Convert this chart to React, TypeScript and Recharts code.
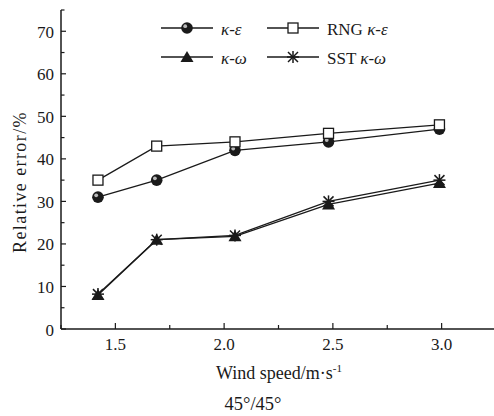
import React from "react";
import { LineChart, Line, XAxis, YAxis, Legend, Label } from "recharts";

const windSpeed = [1.42, 1.69, 2.05, 2.48, 2.99];
const kEpsilon = [31, 35, 42, 44, 47];
const rngKEpsilon = [35, 43, 44, 46, 48];
const kOmega = [8, 21, 21.8, 29.3, 34.3];
const sstKOmega = [8.2, 21, 22, 30, 35];

const xTicks = [1.25, 1.5, 1.75, 2.0, 2.25, 2.5, 2.75, 3.0, 3.25];
const yTicks = [0, 5, 10, 15, 20, 25, 30, 35, 40, 45, 50, 55, 60, 65, 70, 75];

const data = windSpeed.map((w, i) => ({
  w,
  ke: kEpsilon[i],
  rng: rngKEpsilon[i],
  kw: kOmega[i],
  sst: sstKOmega[i],
}));

const FONT = "'Liberation Serif', 'Times New Roman', serif";
const INK = "#1a1a1a";

type Shape = "circle" | "square" | "triangle" | "star";

function Marker({ shape, cx, cy }: { shape: Shape; cx: number; cy: number }) {
  if (shape === "circle") {
    return (
      <g>
        <circle cx={cx} cy={cy} r={5.8} fill={INK} />
        <circle cx={cx - 1.8} cy={cy - 1.8} r={1.9} fill="#fff" opacity={0.7} />
      </g>
    );
  }
  if (shape === "square") {
    return <rect x={cx - 5} y={cy - 5} width={10} height={10} fill="#fff" stroke={INK} strokeWidth={1.3} />;
  }
  if (shape === "triangle") {
    return <path d={`M${cx},${cy - 6} L${cx + 6.5},${cy + 5} L${cx - 6.5},${cy + 5} Z`} fill={INK} />;
  }
  return (
    <g stroke={INK} strokeWidth={1.5}>
      <line x1={cx} y1={cy - 6} x2={cx} y2={cy + 6} />
      <line x1={cx - 6} y1={cy} x2={cx + 6} y2={cy} />
      <line x1={cx - 5} y1={cy - 5} x2={cx + 5} y2={cy + 5} />
      <line x1={cx - 5} y1={cy + 5} x2={cx + 5} y2={cy - 5} />
    </g>
  );
}

const dotFor = (shape: Shape) => (props: any) => {
  const { cx, cy, index } = props;
  if (cx == null || cy == null) return <g key={index} />;
  return <Marker key={`${shape}-${index}`} shape={shape} cx={cx} cy={cy} />;
};

function YTick({ x, y, payload }: any) {
  const v = payload.value as number;
  const major = v % 10 === 0;
  return (
    <g>
      <line x1={x} y1={y} x2={x + (major ? 5 : 3.5)} y2={y} stroke={INK} strokeWidth={1.2} />
      {major && (
        <text x={x - 7} y={y + 1} textAnchor="end" dominantBaseline="central" fontSize={17} fontFamily={FONT} fill={INK}>
          {v}
        </text>
      )}
    </g>
  );
}

function XTick({ x, y, payload }: any) {
  const v = payload.value as number;
  const major = Math.abs(v * 2 - Math.round(v * 2)) < 1e-6 && v < 3.2;
  return (
    <g>
      <line x1={x} y1={y} x2={x} y2={y - (major ? 6 : 4)} stroke={INK} strokeWidth={1.2} />
      {major && (
        <text x={x} y={y + 21} textAnchor="middle" fontSize={17} fontFamily={FONT} fill={INK}>
          {v.toFixed(1)}
        </text>
      )}
    </g>
  );
}

const legendItems: { shape: Shape; pre?: string; greek: string }[] = [
  { shape: "circle", greek: "κ-ε" },
  { shape: "square", pre: "RNG ", greek: "κ-ε" },
  { shape: "triangle", greek: "κ-ω" },
  { shape: "star", pre: "SST ", greek: "κ-ω" },
];

function LegendBox() {
  return (
    <svg width={250} height={50}>
      {legendItems.map((it, i) => {
        const col = i % 2;
        const row = Math.floor(i / 2);
        const x0 = col * 106;
        const y0 = 12 + row * 29;
        return (
          <g key={i}>
            <line x1={x0} y1={y0} x2={x0 + 52} y2={y0} stroke={INK} strokeWidth={1.3} />
            <Marker shape={it.shape} cx={x0 + 26} cy={y0} />
            <text x={x0 + 60} y={y0 + 1} dominantBaseline="central" fontSize={17} fontFamily={FONT} fill={INK}>
              {it.pre}
              <tspan fontStyle="italic">{it.greek}</tspan>
            </text>
          </g>
        );
      })}
    </svg>
  );
}

export default function App() {
  return (
    <div style={{ position: "absolute", left: 0, top: 0, width: 494, height: 416, overflow: "hidden", background: "#fff" }}>
      <LineChart width={500} height={416} data={data} margin={{ top: 10, right: 4, bottom: 47, left: 0 }}>
        <XAxis
          dataKey="w"
          type="number"
          domain={[1.25, 3.25]}
          ticks={xTicks}
          interval={0}
          allowDataOverflow
          height={40}
          tickSize={0}
          tickMargin={0}
          tickLine={false}
          tick={<XTick />}
          axisLine={{ stroke: INK, strokeWidth: 1.5 }}
        >
          <Label
            content={() => (
              <g fontFamily={FONT} fill={INK}>
                <text x={279} y={379} textAnchor="middle" fontSize={18}>
                  Wind speed/m·s
                  <tspan fontSize={11} dy={-7}>-1</tspan>
                </text>
                <text x={253} y={410} textAnchor="middle" fontSize={18.5}>
                  45°/45°
                </text>
              </g>
            )}
          />
        </XAxis>
        <YAxis
          type="number"
          domain={[0, 75]}
          ticks={yTicks}
          interval={0}
          width={61}
          tickSize={0}
          tickMargin={0}
          tickLine={false}
          tick={<YTick />}
          axisLine={{ stroke: INK, strokeWidth: 1.5 }}
        >
          <Label
            content={() => (
              <text
                x={20}
                y={182}
                transform="rotate(-90 20 182)"
                textAnchor="middle"
                dominantBaseline="central"
                fontSize={18}
                letterSpacing={1.4}
                fontFamily={FONT}
                fill={INK}
              >
                Relative error/%
              </text>
            )}
          />
        </YAxis>
        <Legend
          layout="horizontal"
          verticalAlign="middle"
          align="center"
          content={() => <LegendBox />}
          wrapperStyle={{ top: 16, left: 161, width: 250, height: 50 }}
        />
        <Line dataKey="ke" stroke={INK} strokeWidth={1.3} dot={dotFor("circle")} isAnimationActive={false} />
        <Line dataKey="rng" stroke={INK} strokeWidth={1.3} dot={dotFor("square")} isAnimationActive={false} />
        <Line dataKey="kw" stroke={INK} strokeWidth={1.3} dot={dotFor("triangle")} isAnimationActive={false} />
        <Line dataKey="sst" stroke={INK} strokeWidth={1.3} dot={dotFor("star")} isAnimationActive={false} />
      </LineChart>
    </div>
  );
}
